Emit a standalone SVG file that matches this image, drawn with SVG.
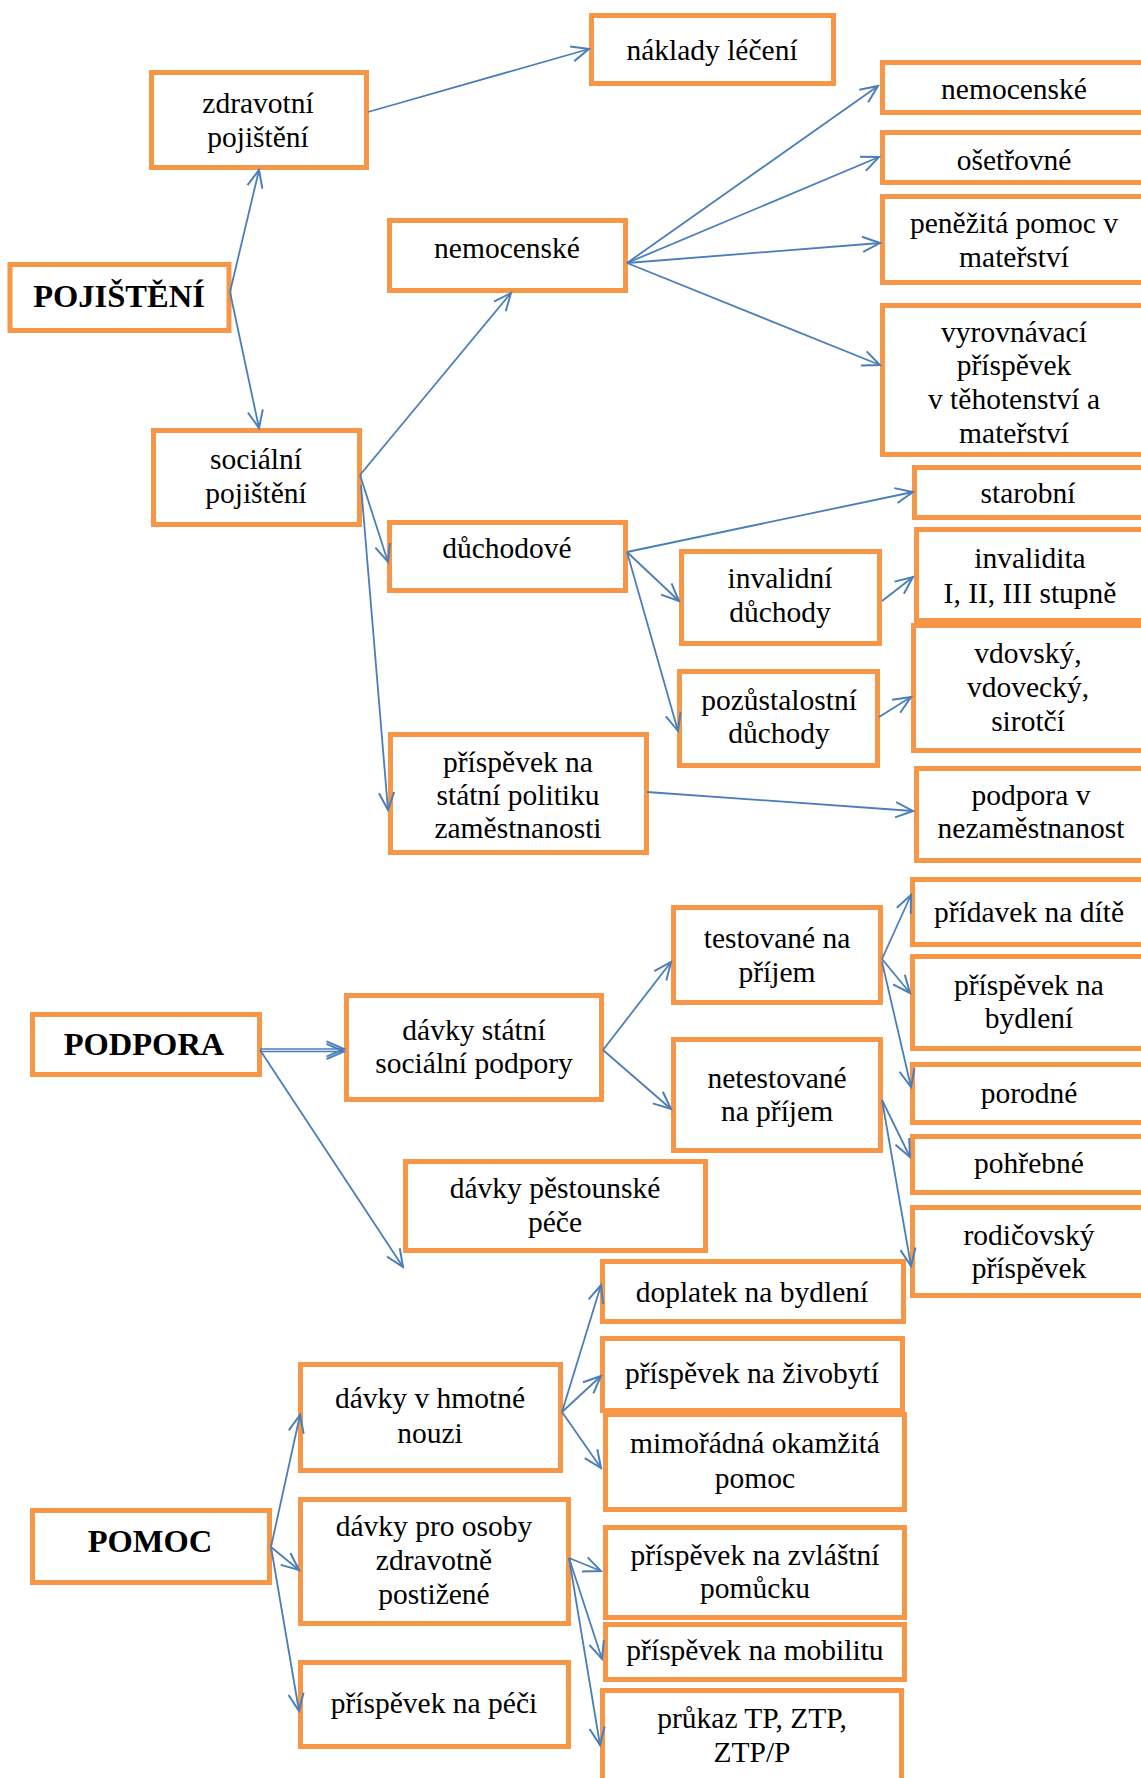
<svg xmlns="http://www.w3.org/2000/svg" width="1141" height="1778" viewBox="0 0 1141 1778">
<style>
.b{fill:#fff;stroke:#F79646;stroke-width:5}
.t{font-family:"Liberation Serif","Times New Roman",serif;font-size:29.5px;fill:#000;text-anchor:middle}
.h{font-family:"Liberation Serif","Times New Roman",serif;font-size:32.5px;font-weight:bold;fill:#000;text-anchor:middle}
.c line{stroke:#4A7EBB;stroke-width:1.8;fill:none;marker-end:url(#a)}
</style>
<defs>
<marker id="a" markerUnits="userSpaceOnUse" markerWidth="24" markerHeight="24" refX="0" refY="0" viewBox="-20 -10 22 20" orient="auto" overflow="visible">
<path d="M-16,-7 L0,0 L-16,7" fill="none" stroke="#4A7EBB" stroke-width="1.8"/>
</marker>
</defs>
<rect width="1141" height="1778" fill="#fff"/>

<g id="n-zdrav"><rect class="b" x="151.5" y="72.5" width="215" height="95"/><text class="t" x="258" y="113">zdravotní</text><text class="t" x="258" y="147">pojištění</text></g>
<g id="n-poj"><rect class="b" x="10" y="264.5" width="219" height="66"/><text class="h" x="119" y="307">POJIŠTĚNÍ</text></g>
<g id="n-naklady"><rect class="b" x="591.5" y="15.5" width="242" height="68"/><text class="t" x="712" y="60">náklady léčení</text></g>
<g id="n-nemR"><rect class="b" x="882.5" y="62.5" width="265" height="50"/><text class="t" x="1014" y="99">nemocenské</text></g>
<g id="n-oset"><rect class="b" x="882.5" y="132.5" width="265" height="50"/><text class="t" x="1014" y="170">ošetřovné</text></g>
<g id="n-penez"><rect class="b" x="882.5" y="196.5" width="265" height="86"/><text class="t" x="1014" y="233">peněžitá pomoc v</text><text class="t" x="1014" y="267">mateřství</text></g>
<g id="n-vyrov"><rect class="b" x="882.5" y="305.5" width="265" height="149"/><text class="t" x="1014" y="342">vyrovnávací</text><text class="t" x="1014" y="375">příspěvek</text><text class="t" x="1014" y="409">v těhotenství a</text><text class="t" x="1014" y="443">mateřství</text></g>
<g id="n-nemM"><rect class="b" x="389.5" y="220.5" width="236" height="70"/><text class="t" x="507" y="258">nemocenské</text></g>
<g id="n-soc"><rect class="b" x="153.5" y="430.5" width="206" height="94"/><text class="t" x="256" y="469">sociální</text><text class="t" x="256" y="503">pojištění</text></g>
<g id="n-duch"><rect class="b" x="389.5" y="522.5" width="236" height="68"/><text class="t" x="507" y="558">důchodové</text></g>
<g id="n-star"><rect class="b" x="914.5" y="467.5" width="240" height="50"/><text class="t" x="1028" y="503">starobní</text></g>
<g id="n-inv"><rect class="b" x="681.5" y="551.5" width="198" height="92"/><text class="t" x="780" y="588">invalidní</text><text class="t" x="780" y="622">důchody</text></g>
<g id="n-invalidita"><rect class="b" x="916.5" y="529.5" width="240" height="91"/><text class="t" x="1030" y="568">invalidita</text><text class="t" x="1030" y="603">I, II, III stupně</text></g>
<g id="n-pozu"><rect class="b" x="679.5" y="671.5" width="198" height="94"/><text class="t" x="779" y="710">pozůstalostní</text><text class="t" x="779" y="743">důchody</text></g>
<g id="n-vdov"><rect class="b" x="913.5" y="625.5" width="240" height="125"/><text class="t" x="1028" y="663">vdovský,</text><text class="t" x="1028" y="697">vdovecký,</text><text class="t" x="1028" y="731">sirotčí</text></g>
<g id="n-spz"><rect class="b" x="390.5" y="734.5" width="256" height="118"/><text class="t" x="518" y="772">příspěvek na</text><text class="t" x="518" y="805">státní politiku</text><text class="t" x="518" y="838">zaměstnanosti</text></g>
<g id="n-podv"><rect class="b" x="916.5" y="768.5" width="240" height="92"/><text class="t" x="1031" y="805">podpora v</text><text class="t" x="1031" y="838">nezaměstnanost</text></g>

<g id="n-podpora"><rect class="b" x="32.5" y="1014.5" width="227" height="60"/><text class="h" x="144" y="1055">PODPORA</text></g>
<g id="n-dss"><rect class="b" x="346.5" y="995.5" width="255" height="104"/><text class="t" x="474" y="1040">dávky státní</text><text class="t" x="474" y="1073">sociální podpory</text></g>
<g id="n-pest"><rect class="b" x="405.5" y="1161.5" width="300" height="89"/><text class="t" x="555" y="1198">dávky pěstounské</text><text class="t" x="555" y="1232">péče</text></g>
<g id="n-test"><rect class="b" x="673.5" y="907.5" width="207" height="95"/><text class="t" x="777" y="948">testované na</text><text class="t" x="777" y="982">příjem</text></g>
<g id="n-netest"><rect class="b" x="673.5" y="1039.5" width="207" height="111"/><text class="t" x="777" y="1088">netestované</text><text class="t" x="777" y="1121">na příjem</text></g>
<g id="n-prid"><rect class="b" x="912.5" y="879.5" width="240" height="65"/><text class="t" x="1029" y="922">přídavek na dítě</text></g>
<g id="n-bydl"><rect class="b" x="912.5" y="956.5" width="240" height="92"/><text class="t" x="1029" y="995">příspěvek na</text><text class="t" x="1029" y="1028">bydlení</text></g>
<g id="n-porod"><rect class="b" x="912.5" y="1064.5" width="240" height="58"/><text class="t" x="1029" y="1103">porodné</text></g>
<g id="n-pohr"><rect class="b" x="912.5" y="1136.5" width="240" height="56"/><text class="t" x="1029" y="1173">pohřebné</text></g>
<g id="n-rodic"><rect class="b" x="912.5" y="1207.5" width="240" height="88"/><text class="t" x="1029" y="1245">rodičovský</text><text class="t" x="1029" y="1278">příspěvek</text></g>

<g id="n-dopl"><rect class="b" x="602.5" y="1261.5" width="301" height="60"/><text class="t" x="752" y="1302">doplatek na bydlení</text></g>
<g id="n-zivob"><rect class="b" x="602.5" y="1338.5" width="300" height="72"/><text class="t" x="752" y="1383">příspěvek na živobytí</text></g>
<g id="n-mimo"><rect class="b" x="605.5" y="1414.5" width="299" height="95"/><text class="t" x="755" y="1453">mimořádná okamžitá</text><text class="t" x="755" y="1488">pomoc</text></g>
<g id="n-zvl"><rect class="b" x="605.5" y="1527.5" width="299" height="90"/><text class="t" x="755" y="1565">příspěvek na zvláštní</text><text class="t" x="755" y="1598">pomůcku</text></g>
<g id="n-mob"><rect class="b" x="605.5" y="1624.5" width="299" height="55"/><text class="t" x="755" y="1660">příspěvek na mobilitu</text></g>
<g id="n-prukaz"><rect class="b" x="602.5" y="1690.5" width="299" height="120"/><text class="t" x="752" y="1728">průkaz TP, ZTP,</text><text class="t" x="752" y="1762">ZTP/P</text></g>
<g id="n-pomoc"><rect class="b" x="32.5" y="1510.5" width="237" height="72"/><text class="h" x="150" y="1552">POMOC</text></g>
<g id="n-hmot"><rect class="b" x="300.5" y="1364.5" width="260" height="106"/><text class="t" x="430" y="1408">dávky v hmotné</text><text class="t" x="430" y="1443">nouzi</text></g>
<g id="n-zp"><rect class="b" x="300.5" y="1499.5" width="268" height="124"/><text class="t" x="434" y="1536">dávky pro osoby</text><text class="t" x="434" y="1570">zdravotně</text><text class="t" x="434" y="1604">postižené</text></g>
<g id="n-peci"><rect class="b" x="300.5" y="1662.5" width="268" height="84"/><text class="t" x="434" y="1713">příspěvek na péči</text></g>

<g id="connectors" class="c">
<line x1="230" y1="292" x2="259" y2="170"/>
<line x1="230" y1="292" x2="259" y2="428"/>
<line x1="368" y1="112" x2="589" y2="49"/>
<line x1="360" y1="475" x2="511" y2="293"/>
<line x1="360" y1="475" x2="388" y2="562"/>
<line x1="361" y1="485" x2="388" y2="810"/>
<line x1="627" y1="263" x2="878" y2="86"/>
<line x1="627" y1="263" x2="879" y2="157"/>
<line x1="627" y1="263" x2="880" y2="243"/>
<line x1="627" y1="263" x2="880" y2="365"/>
<line x1="627" y1="552" x2="913" y2="492"/>
<line x1="627" y1="552" x2="679" y2="601"/>
<line x1="627" y1="552" x2="678" y2="731"/>
<line x1="882" y1="601" x2="913" y2="577"/>
<line x1="879" y1="717" x2="911" y2="697"/>
<line x1="647" y1="792" x2="913" y2="811"/>
<line x1="260" y1="1049" x2="344" y2="1049" style="stroke-width:1.3"/>
<line x1="260" y1="1051.5" x2="344" y2="1051.5" style="stroke-width:1.3"/>
<line x1="260" y1="1050" x2="403" y2="1267"/>
<line x1="603" y1="1050" x2="671" y2="962"/>
<line x1="603" y1="1050" x2="671" y2="1109"/>
<line x1="882" y1="959" x2="911" y2="895"/>
<line x1="882" y1="959" x2="910" y2="993"/>
<line x1="882" y1="962" x2="911" y2="1087"/>
<line x1="882" y1="1100" x2="910" y2="1157"/>
<line x1="882" y1="1100" x2="911" y2="1266"/>
<line x1="271" y1="1547" x2="300" y2="1415"/>
<line x1="271" y1="1547" x2="299" y2="1570"/>
<line x1="271" y1="1547" x2="299" y2="1711"/>
<line x1="562" y1="1412" x2="601" y2="1285"/>
<line x1="562" y1="1412" x2="601" y2="1376"/>
<line x1="562" y1="1412" x2="601" y2="1468"/>
<line x1="569" y1="1558" x2="601" y2="1571"/>
<line x1="569" y1="1558" x2="602" y2="1659"/>
<line x1="569" y1="1558" x2="600" y2="1745"/>
</g>
</svg>
